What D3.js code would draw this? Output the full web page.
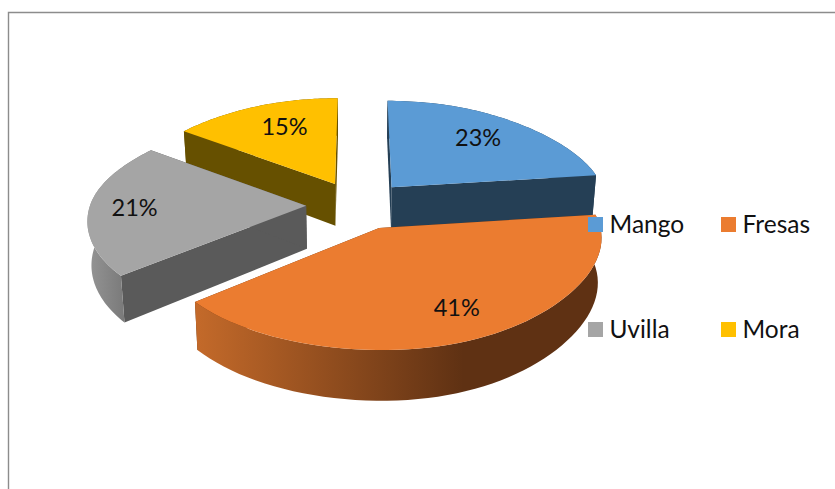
<!DOCTYPE html>
<html>
<head>
<meta charset="utf-8">
<script src="https://cdn.jsdelivr.net/npm/d3@7"></script>
<style>
  html, body { margin: 0; padding: 0; background: #fff; }
  svg { display: block; }
  text { font-family: Lato, "Open Sans", sans-serif; fill: #111; }
</style>
</head>
<body>
<div id="chart"></div>
<script>
const categories = ["Mango", "Fresas", "Uvilla", "Mora"];
const values = [23, 41, 21, 15];

const colors = ["#5B9BD5", "#EB7C30", "#A5A5A5", "#FFC000"];
const wallColors = ["#253F55", "#5F3113", "#5A5A5A", "#665000"];
const outerLight = ["#253F55", "#C46A2A", "#959595", "#665000"];
const outerDark = ["#253F55", "#5F3113", "#666666", "#665000"];
const labelRadius = [0.69, 0.75, 0.8, 0.72];
const labelShiftX = [0, 5, 2, 10];
const labelShiftY = [-2, -1, -1, 0];
const drawOrder = [3, 0, 2, 1];

const width = 835, height = 489;

// perspective pie on a tilted plane
const cx = 358, cy = 205;
const R = 216, ky = 0.468, persp = 0.123;
const explode = 0.24, depth = 43, shrink = 0.985;

function project(x, y, h) {
    var s = 1 / (1 - persp * y);
    var f = h ? shrink : 1;
    // the camera sits a bit off centre, so the far side and the right side pull in
    var pull = (y < 0 || x > 0) ? 1 - 0.06 * y * y * Math.abs(x) : 1;
    return [cx + R * x * s * f * pull, cy + R * ky * y * s + h * s];
}

var svg = d3.select("#chart").append("svg")
    .attr("width", width)
    .attr("height", height);

// chart area frame
svg.append("path")
    .attr("d", "M8.5," + height + "V12.5H" + width)
    .attr("fill", "none")
    .attr("stroke", "#8c8c8c")
    .attr("stroke-width", 1.4);

var arcs = d3.pie().sort(null).startAngle(0).endAngle(2 * Math.PI)(values);
var defs = svg.append("defs");
var line = d3.line();

function sliceInfo(i) {
    var a = arcs[i];
    var mid = (a.startAngle + a.endAngle) / 2;
    return {
        a0: a.startAngle,
        a1: a.endAngle,
        mid: mid,
        ox: explode * Math.sin(mid),
        oy: -explode * Math.cos(mid)
    };
}

function rim(info, h) {
    var n = 60;
    return d3.range(n + 1).map(function (k) {
        var t = info.a0 + (info.a1 - info.a0) * k / n;
        return project(info.ox + Math.sin(t), info.oy - Math.cos(t), h);
    });
}

var chart = svg.append("g");

drawOrder.forEach(function (i) {
    var info = sliceInfo(i);
    var g = chart.append("g").attr("class", "slice");
    var apexTop = project(info.ox, info.oy, 0);
    var apexLow = project(info.ox, info.oy, depth);
    var top = rim(info, 0);
    var low = rim(info, depth);

    // radial walls
    [[top[0], low[0]], [top[top.length - 1], low[low.length - 1]]].forEach(function (edge) {
        g.append("path")
            .attr("d", line([apexTop, edge[0], edge[1], apexLow]) + "Z")
            .attr("fill", wallColors[i]);
    });

    // outer curved wall
    var xs = d3.extent(top, function (p) { return p[0]; });
    var gradId = "outer" + i;
    var grad = defs.append("linearGradient")
        .attr("id", gradId)
        .attr("gradientUnits", "userSpaceOnUse")
        .attr("x1", xs[0]).attr("x2", xs[1])
        .attr("y1", 0).attr("y2", 0);
    var lastStop = i === 1 ? 0.66 : 1;
    grad.append("stop").attr("offset", 0).attr("stop-color", outerLight[i]);
    grad.append("stop").attr("offset", lastStop).attr("stop-color", outerDark[i]);
    g.append("path")
        .attr("d", line(top.concat(low.slice().reverse())) + "Z")
        .attr("fill", "url(#" + gradId + ")");

    // top face
    g.append("path")
        .attr("d", line([apexTop].concat(top)) + "Z")
        .attr("fill", colors[i]);
});

// percentage labels
var total = d3.sum(values);
categories.forEach(function (c, i) {
    var info = sliceInfo(i);
    var p = project(info.ox + labelRadius[i] * Math.sin(info.mid),
        info.oy - labelRadius[i] * Math.cos(info.mid), 0);
    svg.append("text")
        .attr("x", p[0] + labelShiftX[i])
        .attr("y", p[1] + labelShiftY[i])
        .attr("dy", "0.35em")
        .attr("text-anchor", "middle")
        .style("font-size", "23.5px")
        .text(Math.round(values[i] / total * 100) + "%");
});

// legend, two columns
var legendX = d3.scaleOrdinal().domain([0, 1]).range([588, 721]);
var legendY = d3.scaleOrdinal().domain([0, 1]).range([217, 322]);
var legend = svg.append("g");
categories.forEach(function (c, i) {
    var lx = legendX(i % 2), ly = legendY(Math.floor(i / 2));
    legend.append("rect")
        .attr("x", lx).attr("y", ly)
        .attr("width", 15).attr("height", 15)
        .attr("fill", colors[i]);
    legend.append("text")
        .attr("x", lx + 21.5)
        .attr("y", ly + 7.5)
        .attr("dy", "0.35em")
        .style("font-size", "24.5px")
        .text(c);
});
</script>
</body>
</html>
